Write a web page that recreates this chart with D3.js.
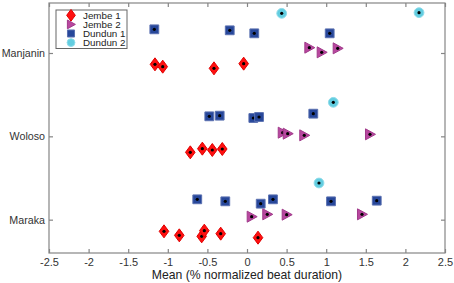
<!DOCTYPE html>
<html><head><meta charset="utf-8">
<script src="https://cdn.jsdelivr.net/npm/d3@7"></script>
<style>body{margin:0;background:#fff}svg{display:block;font-family:"Liberation Sans",Arial,sans-serif}</style>
</head><body><svg id="c" width="454" height="283"></svg>
<script>
const categories = ["Maraka", "Woloso", "Manjanin"]; // y = 1, 2, 3
const xTicks = [-2.5, -2, -1.5, -1, -0.5, 0, 0.5, 1, 1.5, 2, 2.5];
const seriesNames = ["Jembe 1", "Jembe 2", "Dundun 1", "Dundun 2"];
// [x, y] pairs (y in category units)
const jembe1 = [
  [-1.162, 2.864], [-1.064, 2.836], [-0.417, 2.816], [-0.042, 2.872],
  [-0.716, 1.808], [-0.564, 1.852], [-0.438, 1.836], [-0.312, 1.848],
  [-1.048, 0.860], [-0.855, 0.812], [-0.572, 0.800], [-0.539, 0.868], [-0.332, 0.832], [0.139, 0.784]
];
const jembe2 = [
  [0.787, 3.064], [0.943, 3.008], [1.145, 3.056],
  [0.451, 2.044], [0.514, 2.032], [0.723, 2.012], [1.553, 2.024],
  [0.059, 1.036], [0.256, 1.064], [0.501, 1.060], [1.452, 1.064]
];
const dundun1 = [
  [-1.170, 3.284], [-0.218, 3.272], [0.092, 3.236], [1.044, 3.236],
  [-0.476, 2.240], [-0.345, 2.248], [0.080, 2.220], [0.152, 2.232], [0.837, 2.272],
  [-0.628, 1.244], [-0.274, 1.220], [0.173, 1.192], [0.328, 1.244], [1.061, 1.220], [1.638, 1.228]
];
const dundun2 = [
  [0.438, 3.476], [2.172, 3.484],
  [1.090, 2.408],
  [0.909, 1.440]
];

const svg = d3.select("#c");
const L = 49, R = 445, T = 3, B = 253;
const x = d3.scaleLinear().domain([-2.5, 2.5]).range([L, R]);
const y = d3.scaleLinear().domain([0.6, 3.6]).range([B, T]);
const axisColor = "#858585";

svg.append("rect").attr("x", L).attr("y", T).attr("width", R - L).attr("height", B - T)
  .attr("fill", "none").attr("stroke", axisColor).attr("stroke-width", 1.2);

const fmt = d => (d === 0 ? "0" : String(d));
const gx = svg.append("g").attr("transform", `translate(0,${B})`)
  .call(d3.axisBottom(x).tickValues(xTicks).tickFormat(fmt).tickSizeInner(-4).tickSizeOuter(0).tickPadding(5));
const gxt = svg.append("g").attr("transform", `translate(0,${T})`)
  .call(d3.axisTop(x).tickValues(xTicks).tickFormat("").tickSizeInner(-4).tickSizeOuter(0));
const gy = svg.append("g").attr("transform", `translate(${L},0)`)
  .call(d3.axisLeft(y).tickValues([1, 2, 3]).tickFormat(d => categories[d - 1]).tickSizeInner(-4).tickSizeOuter(0).tickPadding(4));
const gyr = svg.append("g").attr("transform", `translate(${R},0)`)
  .call(d3.axisRight(y).tickValues([1, 2, 3]).tickFormat("").tickSizeInner(-4).tickSizeOuter(0));

[gx, gxt, gy, gyr].forEach(g => {
  g.select(".domain").remove();
  g.attr("font-family", "Liberation Sans, Arial, sans-serif");
  g.selectAll(".tick line").attr("stroke", axisColor).attr("stroke-width", 1.2);
  g.selectAll("text").attr("fill", "#333");
});
gx.attr("font-size", 11);
gy.attr("font-size", 10.7);

svg.append("text").attr("x", (L + R) / 2).attr("y", 278.5).attr("text-anchor", "middle")
  .attr("font-size", 12.2).attr("fill", "#222").text("Mean (% normalized beat duration)");

const styles = {
  "Jembe 1": {fill: "#ff1010", stroke: "#e00000", shape: "diamond"},
  "Jembe 2": {fill: "#b8479f", stroke: "#a03a8a", shape: "tri"},
  "Dundun 1": {fill: "#27479a", stroke: "#5a70b0", shape: "square"},
  "Dundun 2": {fill: "#62cde0", stroke: "#8fdcea", shape: "circle"}
};
function shapePath(shape, k) {
  switch (shape) {
    case "diamond": return `M0,${-6.5*k}L${4.8*k},0L0,${6.5*k}L${-4.8*k},0Z`;
    case "tri": return `M${-4.5*k},${-5.5*k}L${5.5*k},0L${-4.5*k},${5.5*k}Z`;
    case "square": return `M${-4.4*k},${-4.4*k}H${4.4*k}V${4.4*k}H${-4.4*k}Z`;
    case "circle": return d3.symbol(d3.symbolCircle, 75 * k * k)();
  }
}
function drawMarker(g, name, px, py, k) {
  const s = styles[name];
  const m = g.append("g").attr("transform", `translate(${px},${py})`);
  m.append("path").attr("d", shapePath(s.shape, k)).attr("fill", s.fill).attr("stroke", s.stroke).attr("stroke-width", 1);
  return m;
}
const data = [["Dundun 2", dundun2], ["Dundun 1", dundun1], ["Jembe 2", jembe2], ["Jembe 1", jembe1]];
const pg = svg.append("g");
data.forEach(([name, arr]) => {
  arr.forEach(([vx, vy]) => {
    const m = drawMarker(pg, name, x(vx), y(vy), 1);
    m.append("circle").attr("r", 1.6).attr("fill", "#000");
  });
});

const lg = svg.append("g");
lg.append("rect").attr("x", 56).attr("y", 10).attr("width", 71).attr("height", 38.5)
  .attr("fill", "#fff").attr("stroke", "#666").attr("stroke-width", 1);
seriesNames.forEach((n, i) => {
  const yy = 15.3 + i * 9.1;
  drawMarker(lg, n, 71, yy, n === "Jembe 1" ? 0.9 : 0.8);
  lg.append("text").attr("x", 83).attr("y", yy).attr("dy", "0.36em").attr("font-size", 9.8)
    .attr("fill", "#222").text(n);
});
</script></body></html>
